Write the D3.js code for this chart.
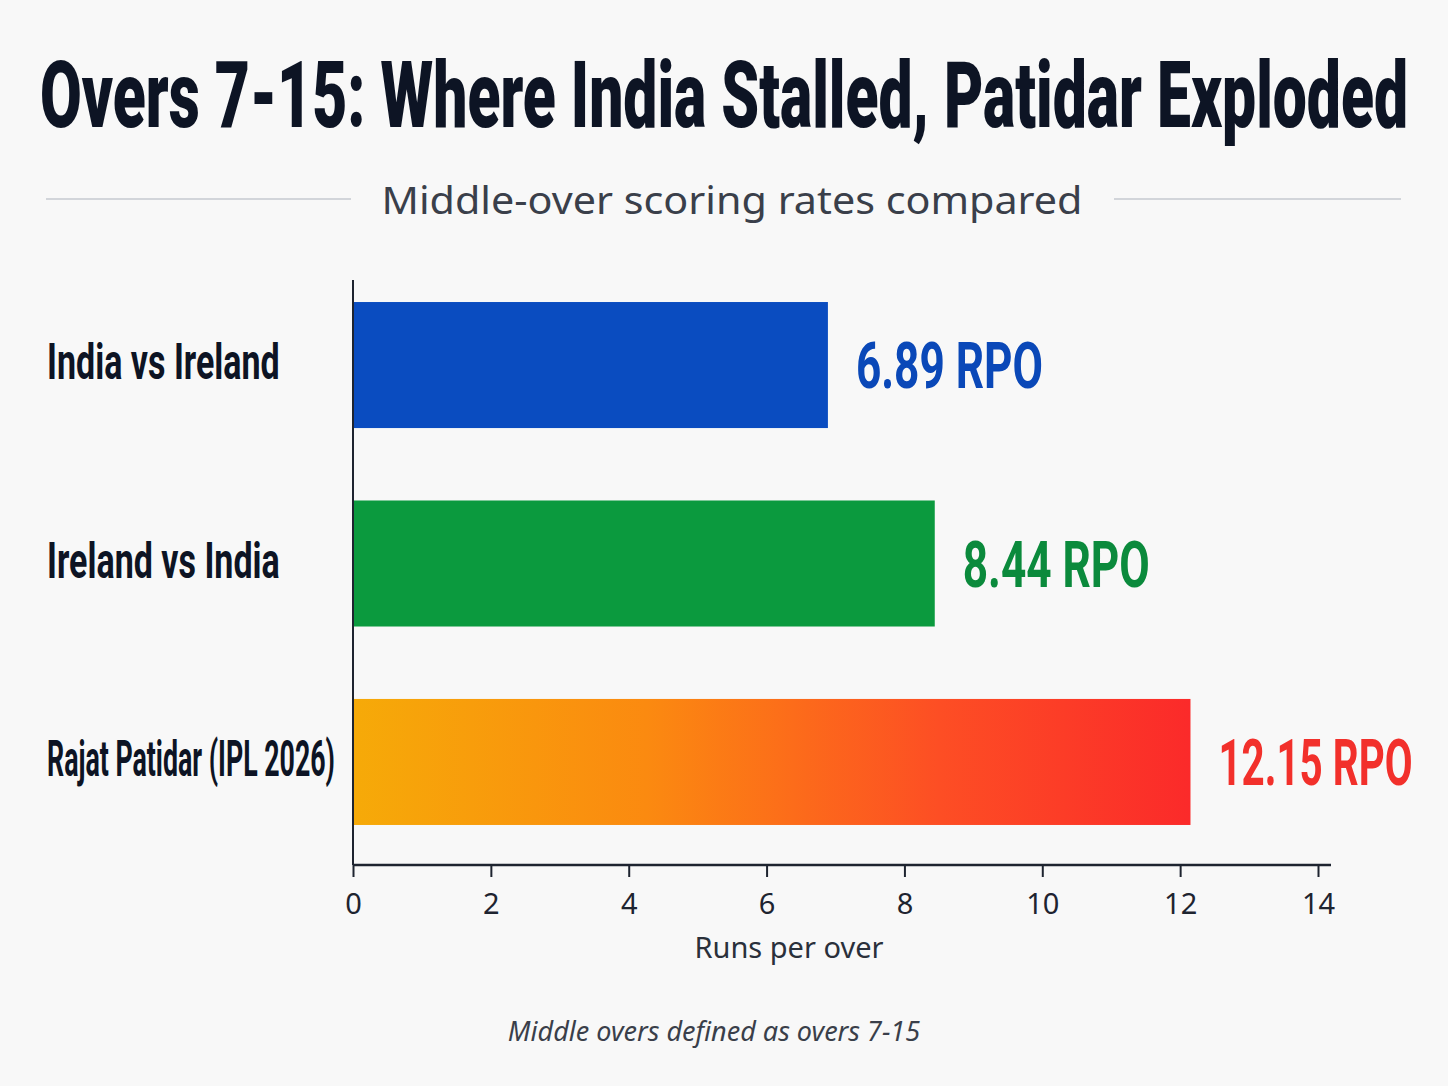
<!DOCTYPE html>
<html>
<head>
<meta charset="utf-8">
<script src="https://cdn.jsdelivr.net/npm/d3@7"></script>
<style>
  body { margin: 0; background: #f8f8f8; }
  svg { display: block; }
</style>
</head>
<body>
<script>
// data
var categories = ["India vs Ireland", "Ireland vs India", "Rajat Patidar (IPL 2026)"];
var rpoValues = [6.89, 8.44, 12.15];
var valueLabels = ["6.89 RPO", "8.44 RPO", "12.15 RPO"];
var xTicks = [0, 2, 4, 6, 8, 10, 12, 14];

var W = 1448, H = 1086;
var plotLeft = 353, plotRight = 1318, plotTop = 280, axisY = 865;

var svg = d3.select("body").append("svg").attr("width", W).attr("height", H);

svg.append("rect").attr("width", W).attr("height", H).attr("rx", 14).attr("fill", "#f8f8f8");

var defs = svg.append("defs");
var grad = defs.append("linearGradient").attr("id", "hot").attr("x1", "0%").attr("x2", "100%");
grad.append("stop").attr("offset", "0%").attr("stop-color", "#f6aa08");
grad.append("stop").attr("offset", "35%").attr("stop-color", "#fb8a10");
grad.append("stop").attr("offset", "70%").attr("stop-color", "#fd4e24");
grad.append("stop").attr("offset", "100%").attr("stop-color", "#fb2a2a");

var barFill = ["#0a4cc0", "#0b9a3e", "url(#hot)"];
var textFill = ["#0a48b8", "#0b8a3c", "#f2302b"];

// squeeze a text horizontally to look like a condensed face (capped at maxW)
function condense(sel, f, maxW) {
  sel.each(function () {
    var n = this.getComputedTextLength();
    d3.select(this).attr("textLength", Math.min(n * f, maxW)).attr("lengthAdjust", "spacingAndGlyphs");
  });
}

// title
svg.append("text")
  .attr("x", W / 2).attr("y", 127)
  .attr("text-anchor", "middle")
  .attr("font-family", "Roboto").attr("font-weight", 900).attr("font-size", 92)
  .attr("fill", "#0d1424")
  .text("Overs 7-15: Where India Stalled, Patidar Exploded")
  .attr("textLength", 1368).attr("lengthAdjust", "spacingAndGlyphs");

// subtitle with rules
svg.append("line").attr("x1", 46).attr("x2", 351).attr("y1", 199).attr("y2", 199)
  .attr("stroke", "#d2d5da").attr("stroke-width", 2);
svg.append("line").attr("x1", 1114).attr("x2", 1401).attr("y1", 199).attr("y2", 199)
  .attr("stroke", "#d2d5da").attr("stroke-width", 2);
svg.append("text")
  .attr("x", 732).attr("y", 214)
  .attr("text-anchor", "middle")
  .attr("font-family", "Noto Sans").attr("font-size", 38)
  .attr("fill", "#3a3f4a")
  .text("Middle-over scoring rates compared")
  .attr("textLength", 701).attr("lengthAdjust", "spacingAndGlyphs");

var x = d3.scaleLinear().domain([0, 14]).range([plotLeft, plotRight]);
var y = d3.scaleBand().domain(categories).range([plotTop, 847]).paddingInner(0.365).paddingOuter(0.111);

// bars
svg.selectAll("rect.bar")
  .data(rpoValues)
  .enter().append("rect")
  .attr("class", "bar")
  .attr("x", x(0))
  .attr("y", function (d, i) { return y(categories[i]); })
  .attr("width", function (d) { return x(d) - x(0); })
  .attr("height", y.bandwidth())
  .attr("fill", function (d, i) { return barFill[i]; });

// value labels
svg.selectAll("text.val")
  .data(rpoValues)
  .enter().append("text")
  .attr("class", "val")
  .attr("x", function (d) { return x(d) + 28; })
  .attr("y", function (d, i) { return y(categories[i]) + y.bandwidth() / 2 + 23; })
  .attr("font-family", "Roboto").attr("font-weight", 700).attr("font-size", 64)
  .attr("fill", function (d, i) { return textFill[i]; })
  .text(function (d, i) { return valueLabels[i]; })
  .call(condense, 0.69, 194);

// category labels
svg.selectAll("text.cat")
  .data(categories)
  .enter().append("text")
  .attr("class", "cat")
  .attr("x", 47)
  .attr("y", function (d) { return y(d) + y.bandwidth() / 2 + 14; })
  .attr("font-family", "Roboto").attr("font-weight", 700).attr("font-size", 50)
  .attr("fill", "#0d1424")
  .text(function (d) { return d; })
  .call(condense, 0.68, 288);

// axes
svg.append("line").attr("x1", plotLeft).attr("x2", plotLeft).attr("y1", plotTop).attr("y2", axisY)
  .attr("stroke", "#1e2430").attr("stroke-width", 2);

var xAxis = d3.axisBottom(x).tickValues(xTicks).tickSize(12).tickPadding(16).tickSizeOuter(0);
var gx = svg.append("g").attr("transform", "translate(0," + axisY + ")").call(xAxis);
gx.select(".domain").attr("d", "M" + plotLeft + ",0H1331").attr("stroke", "#1e2430").attr("stroke-width", 2.5);
gx.selectAll(".tick line").attr("stroke", "#1e2430").attr("stroke-width", 2);
gx.selectAll(".tick text")
  .attr("font-family", "Noto Sans").attr("font-size", 29).attr("fill", "#1e2430");

svg.append("text")
  .attr("x", 789).attr("y", 958)
  .attr("text-anchor", "middle")
  .attr("font-family", "Noto Sans").attr("font-size", 29)
  .attr("fill", "#2a303b")
  .text("Runs per over");

// footnote
svg.append("text")
  .attr("x", 714).attr("y", 1041)
  .attr("text-anchor", "middle")
  .attr("font-family", "Noto Sans").attr("font-style", "italic").attr("font-size", 27)
  .attr("fill", "#3a3f4a")
  .text("Middle overs defined as overs 7-15");
</script>
</body>
</html>
